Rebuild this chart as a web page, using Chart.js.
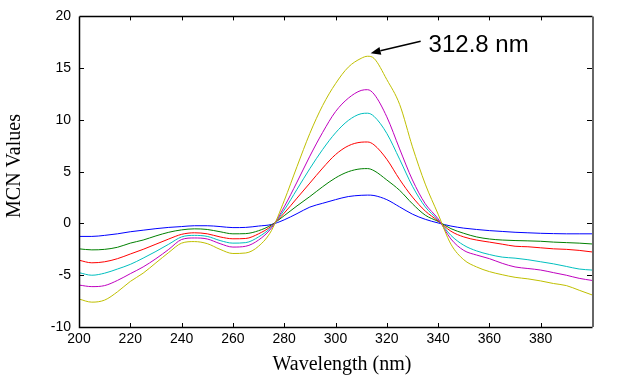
<!DOCTYPE html>
<html><head><meta charset="utf-8">
<script src="https://cdn.jsdelivr.net/npm/chart.js@4"></script>
<style>html,body{margin:0;padding:0;background:#fff;}canvas{display:block;}</style>
</head><body>
<canvas id="c" width="640" height="375"></canvas>
<script>
// ---- data ----
const wavelengths = [200,205,210,215,220,225,230,235,240,245,250,255,260,265,270,275,280,285,290,295,300,305,310,312.5,315,320,325,330,335,340,345,350,355,360,365,370,375,380,385,390,395,400];
const seriesBlue    = [-1.25,-1.25,-1.15,-1.0,-0.8,-0.65,-0.5,-0.38,-0.3,-0.22,-0.22,-0.3,-0.4,-0.38,-0.25,-0.1,0.35,0.95,1.58,1.95,2.3,2.6,2.72,2.74,2.7,2.3,1.6,0.9,0.4,0.05,-0.25,-0.45,-0.58,-0.69,-0.77,-0.85,-0.9,-0.95,-0.98,-1.0,-1.0,-1.0];
const seriesGreen   = [-2.45,-2.55,-2.5,-2.3,-1.9,-1.6,-1.2,-0.85,-0.62,-0.52,-0.58,-0.8,-1.0,-0.98,-0.7,-0.15,0.75,1.7,2.6,3.55,4.4,5.0,5.28,5.3,5.1,4.2,3.2,1.9,0.8,0.2,-0.5,-0.95,-1.3,-1.5,-1.6,-1.65,-1.68,-1.72,-1.8,-1.85,-1.9,-1.98];
const seriesRed     = [-3.55,-3.8,-3.7,-3.4,-2.95,-2.5,-2.0,-1.5,-1.05,-0.9,-1.0,-1.3,-1.48,-1.45,-1.0,-0.25,1.0,2.45,3.9,5.35,6.65,7.5,7.85,7.87,7.6,6.2,4.25,2.55,1.2,0.25,-0.75,-1.3,-1.6,-1.8,-2.0,-2.2,-2.25,-2.35,-2.45,-2.5,-2.6,-2.75];
const seriesCyan    = [-4.75,-5.0,-4.8,-4.4,-3.95,-3.35,-2.7,-2.0,-1.3,-1.15,-1.25,-1.65,-1.9,-1.85,-1.3,-0.35,1.3,3.3,5.3,7.15,8.75,9.95,10.6,10.65,10.35,8.7,6.2,3.6,1.6,0.35,-1.15,-2.1,-2.65,-3.0,-3.25,-3.35,-3.5,-3.7,-3.9,-4.15,-4.4,-4.5];
const seriesMagenta = [-5.95,-6.1,-6.0,-5.5,-4.85,-4.2,-3.4,-2.5,-1.55,-1.4,-1.5,-1.95,-2.28,-2.2,-1.6,-0.45,1.6,4.0,6.5,8.8,10.8,12.1,12.85,12.92,12.5,10.3,7.2,4.2,1.9,0.45,-1.5,-2.6,-3.05,-3.4,-3.85,-4.2,-4.35,-4.5,-4.75,-5.0,-5.3,-5.5];
const seriesYellow  = [-7.3,-7.6,-7.4,-6.6,-5.6,-4.8,-3.8,-2.8,-1.9,-1.75,-1.95,-2.5,-2.9,-2.85,-2.2,-0.7,2.2,5.5,8.7,11.4,13.5,15.1,15.95,16.15,15.95,13.9,11.5,7.4,3.8,0.9,-2.0,-3.5,-4.2,-4.65,-4.95,-5.2,-5.35,-5.55,-5.8,-6.0,-6.45,-6.9];
const xTickValues = [200,220,240,260,280,300,320,340,360,380];
const yTickValues = [-10,-5,0,5,10,15,20];
const xTitle = 'Wavelength (nm)';
const yTitle = 'MCN Values';
const peakLabel = '312.8 nm';

// ---- styles ----
const seriesList = [
  {d: seriesBlue,    c: '#0000ff'},
  {d: seriesGreen,   c: '#008000'},
  {d: seriesRed,     c: '#ff0000'},
  {d: seriesCyan,    c: '#00bfbf'},
  {d: seriesMagenta, c: '#bf00bf'},
  {d: seriesYellow,  c: '#bfbf00'}
];
const annot = {tipX: 313.7, tipY: 16.45, tailX: 333.2, tailY: 17.6, textX: 336.3, textY: 16.6};

const datasets = seriesList.map((s, i) => ({
  data: wavelengths.map((w, k) => ({x: w, y: s.d[k]})),
  borderColor: s.c,
  borderWidth: 1,
  pointRadius: 0,
  fill: false,
  cubicInterpolationMode: 'monotone',
  order: seriesList.length - i
}));

const framePlugin = {
  id: 'frame',
  afterDatasetsDraw(chart) {
    const {ctx, chartArea: a, scales: {x, y}} = chart;
    ctx.save();
    ctx.strokeStyle = '#000';
    ctx.lineWidth = 1;
    const tl = 4;
    ctx.beginPath();
    xTickValues.forEach(v => {
      if (v === 200) return;
      const px = Math.round(x.getPixelForValue(v)) + 0.5;
      ctx.moveTo(px, a.bottom); ctx.lineTo(px, a.bottom - tl);
      ctx.moveTo(px, a.top); ctx.lineTo(px, a.top + tl);
    });
    yTickValues.forEach(v => {
      if (v === -10 || v === 20) return;
      const py = Math.round(y.getPixelForValue(v)) + 0.5;
      ctx.moveTo(a.left, py); ctx.lineTo(a.left + tl + 1, py);
      ctx.moveTo(a.right, py); ctx.lineTo(a.right - tl - 1, py);
    });
    ctx.stroke();
    ctx.lineWidth = 1.5;
    ctx.beginPath();
    ctx.moveTo(Math.round(a.left) + 0.5, Math.round(a.top) + 0.5);
    ctx.lineTo(Math.round(a.left) + 0.5, Math.round(a.bottom) + 0.5);
    ctx.lineTo(Math.round(a.right) + 0.5, Math.round(a.bottom) + 0.5);
    ctx.moveTo(Math.round(a.left) + 0.5, Math.round(a.top) + 0.5);
    ctx.lineTo(Math.round(a.right) + 0.5, Math.round(a.top) + 0.5);
    ctx.stroke();
    ctx.strokeStyle = '#666';
    ctx.lineWidth = 2;
    ctx.beginPath();
    ctx.moveTo(Math.round(a.right) + 1, a.top);
    ctx.lineTo(Math.round(a.right) + 1, a.bottom);
    ctx.stroke();
    ctx.restore();
  },
  afterDraw(chart) {
    const {ctx, scales: {x, y}} = chart;
    ctx.save();
    ctx.fillStyle = '#000';
    ctx.font = '20px "Liberation Serif", "Times New Roman", serif';
    ctx.textAlign = 'center';
    ctx.textBaseline = 'alphabetic';
    ctx.fillText(xTitle, 342, 370);
    ctx.translate(20, 166);
    ctx.rotate(-Math.PI / 2);
    ctx.fillText(yTitle, 0, 0);
    ctx.restore();
    ctx.save();
    const tx = x.getPixelForValue(annot.tipX), ty = y.getPixelForValue(annot.tipY);
    const sx = x.getPixelForValue(annot.tailX), sy = y.getPixelForValue(annot.tailY);
    const ang = Math.atan2(ty - sy, tx - sx);
    const hl = 10, hw = 4;
    const bx = tx - hl * Math.cos(ang), by = ty - hl * Math.sin(ang);
    ctx.strokeStyle = '#000'; ctx.fillStyle = '#000'; ctx.lineWidth = 1.5;
    ctx.beginPath(); ctx.moveTo(sx, sy); ctx.lineTo(bx, by); ctx.stroke();
    ctx.beginPath();
    ctx.moveTo(tx, ty);
    ctx.lineTo(bx + hw * Math.sin(ang), by - hw * Math.cos(ang));
    ctx.lineTo(bx - hw * Math.sin(ang), by + hw * Math.cos(ang));
    ctx.closePath(); ctx.fill();
    ctx.font = '24px "Liberation Sans", Arial, sans-serif';
    ctx.textAlign = 'left'; ctx.textBaseline = 'alphabetic';
    ctx.fillText(peakLabel, x.getPixelForValue(annot.textX), y.getPixelForValue(annot.textY));
    ctx.restore();
  }
};

new Chart(document.getElementById('c'), {
  type: 'line',
  data: {datasets},
  options: {
    responsive: false,
    devicePixelRatio: 1,
    animation: false,
    events: [],
    layout: {padding: {top: 14, right: 48, left: 0, bottom: 0}},
    plugins: {legend: {display: false}, tooltip: {enabled: false}},
    scales: {
      x: {
        type: 'linear', min: 200, max: 400,
        afterBuildTicks: s => { s.ticks = xTickValues.map(v => ({value: v})); },
        afterFit: s => { s.height = 48; },
        grid: {display: false, drawTicks: false},
        border: {display: false},
        ticks: {color: '#000', padding: 4, maxRotation: 0, autoSkip: false,
                font: {family: '"Liberation Sans", Arial, sans-serif', size: 14}}
      },
      y: {
        type: 'linear', min: -10, max: 20,
        afterBuildTicks: s => { s.ticks = yTickValues.map(v => ({value: v})); },
        afterFit: s => { s.width = 79; },
        grid: {display: false, drawTicks: false},
        border: {display: false},
        ticks: {color: '#000', padding: 8,
                font: {family: '"Liberation Sans", Arial, sans-serif', size: 14}}
      }
    }
  },
  plugins: [framePlugin]
});
</script>
</body></html>
